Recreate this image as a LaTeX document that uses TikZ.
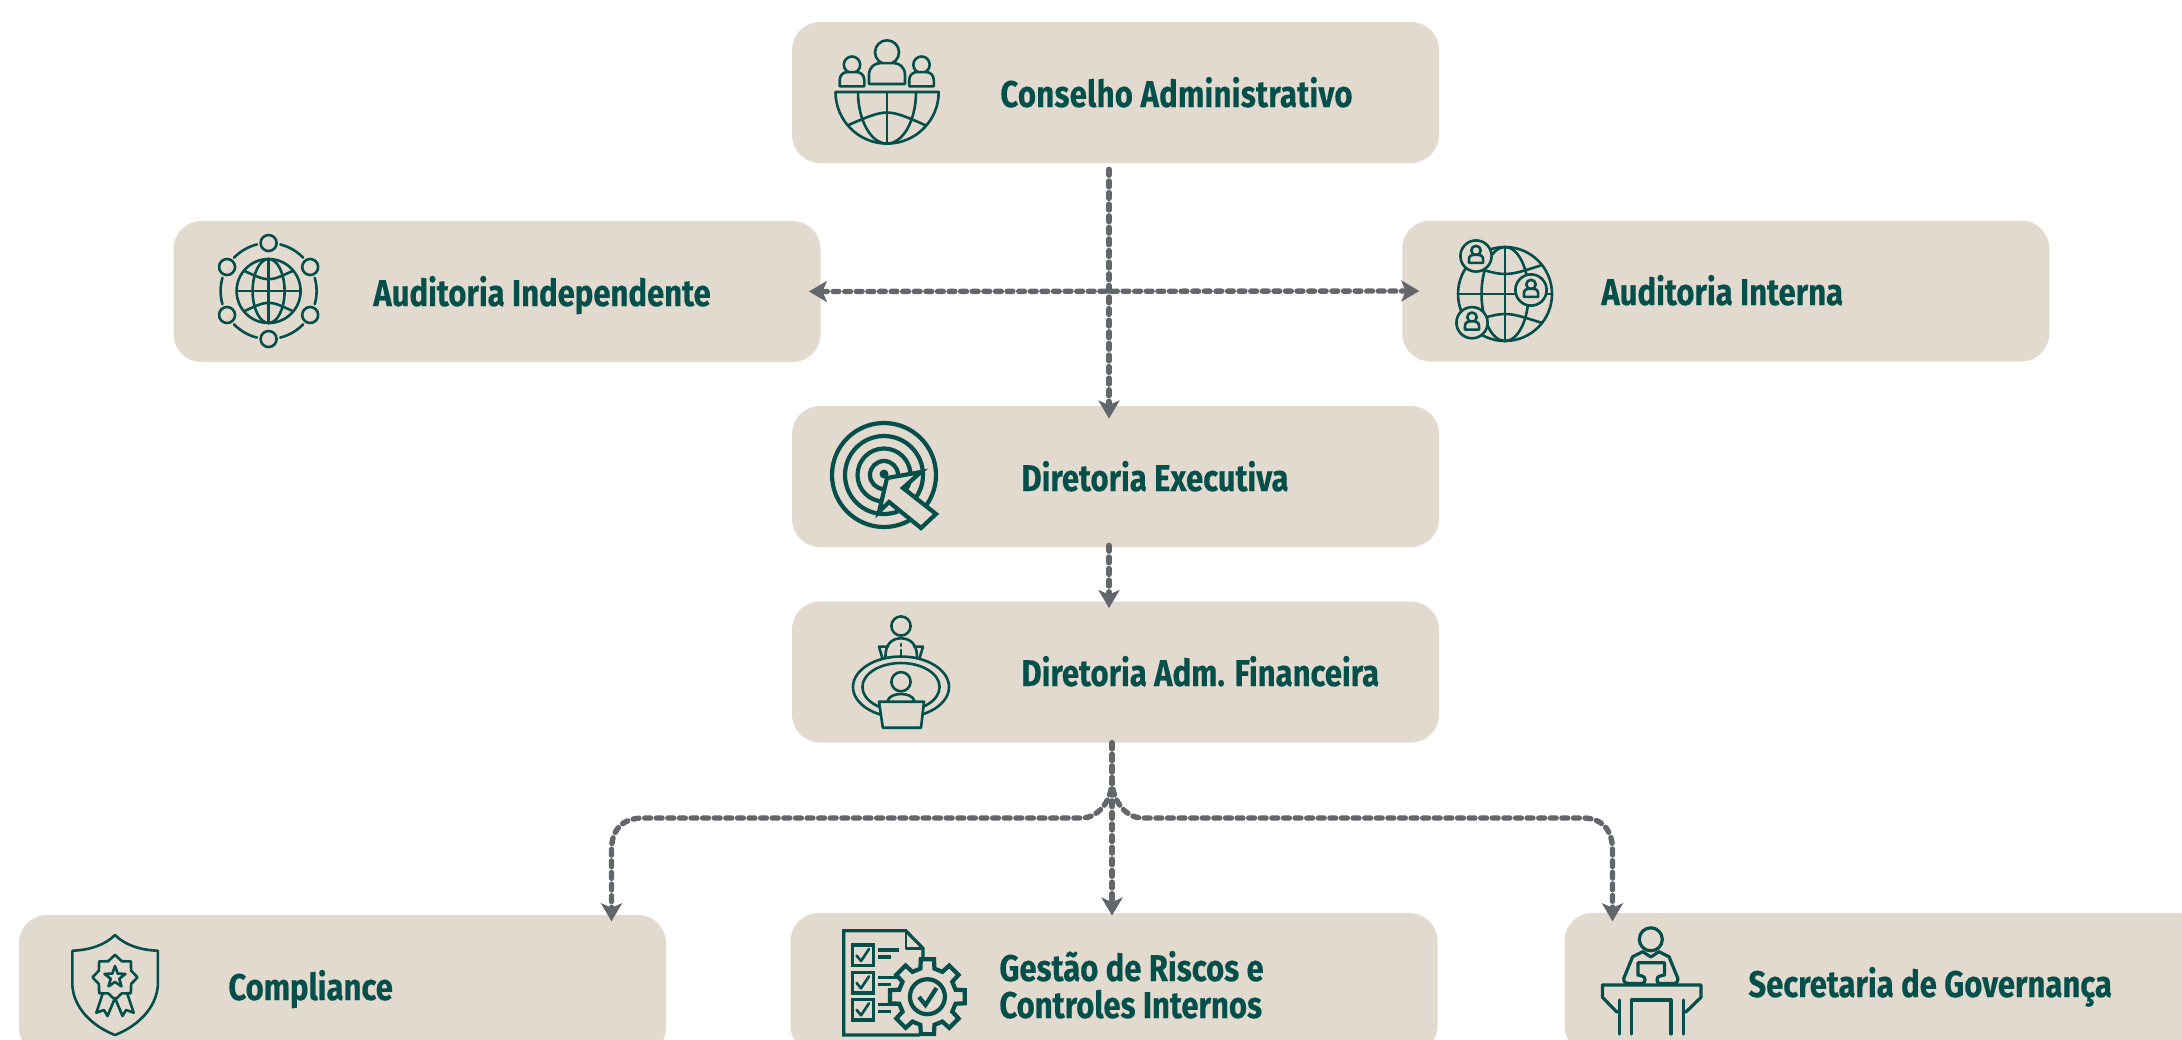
\documentclass[tikz,border=0pt]{standalone}
\usepackage{fontspec}
\setmainfont[FakeStretch=0.835,BoldFeatures={FakeBold=0.35}]{Fira Sans}
\usetikzlibrary{arrows.meta}
\definecolor{boxc}{HTML}{E2DACF}
\definecolor{inkc}{HTML}{054F4B}
\definecolor{linkc}{HTML}{63666A}
\tikzset{
  panel/.style={rectangle,rounded corners=14pt,fill=boxc,draw=none,minimum width=323.5pt,minimum height=70.5pt,inner sep=0pt},
  lab/.style={anchor=base west,inner sep=0pt,text=inkc,font=\fontsize{18.6}{22}\selectfont\bfseries},
  headtip/.tip={Stealth[length=9pt,width=10.5pt,inset=2.2pt]},
  link/.style={draw=linkc,line width=2.7pt,line cap=round,dash pattern=on 2.9pt off 2.9pt,-headtip},
  ic/.style={draw=inkc,line width=1.3pt,line join=round,line cap=round},
  icb/.style={draw=inkc,line width=2.1pt,line join=miter}
}
\newcommand\persona[3]{\begin{scope}[shift={(#1,#2)},scale=#3]
  \draw[ic] (0,0) circle[radius=1];
  \draw[ic,fill=boxc] (-1.5,2.64) -- (-1.5,1.9) .. controls (-1.5,1.2) and (-1,.9) .. (-.55,.9) -- (.55,.9) .. controls (1,.9) and (1.5,1.2) .. (1.5,1.9) -- (1.5,2.64) -- cycle;
\end{scope}}
\begin{document}
\begin{tikzpicture}[x=0.5pt,y=-0.5pt]
\path[use as bounding box] (0,0) rectangle (2182,1039);
\clip (0,0) rectangle (2182,1039);
% panels
\node[panel] (conselho) at (1115.5,92.5) {};
\node[panel] (auditind) at (497,291.5) {};
\node[panel] (auditint) at (1725.75,291) {};
\node[panel] (direx) at (1115.5,476.5) {};
\node[panel] (diradm) at (1115.5,672) {};
\node[panel] (compl) at (342.5,985.5) {};
\node[panel] (gestao) at (1114,983.5) {};
\node[panel] (secret) at (1888,983.5) {};
% labels
\node[lab] (t1) at (1000,107) {\addfontfeature{LetterSpace=0.7}Conselho Administrativo};
\node[lab] (t2) at (373,306) {Auditoria Independente};
\node[lab] (t3) at (1601,305) {Auditoria Interna};
\node[lab] (t4) at (1021,491) {Diretoria Executiva};
\node[lab] (t5) at (1021,686) {Diretoria Adm. Financeira};
\node[lab] (t6) at (228,1000) {Compliance};
\node[lab] (t7) at (999,981) {Gestão de Riscos e};
\node[lab] (t8) at (999,1018) {Controles Internos};
\node[lab] (t9) at (1748,997) {Secretaria de Governança};
% connectors
\draw[link] ([xshift=-3.25pt,yshift=-3pt]conselho.south) -- ([xshift=-3.25pt,yshift=-6.5pt]direx.north);
\draw[link,headtip-headtip] ([xshift=-6pt]auditind.east) -- ([xshift=8.75pt]auditint.west);
\draw[link] ([xshift=-3.25pt,yshift=1pt]direx.south) -- ([xshift=-3.25pt,yshift=-3.5pt]diradm.north);
\draw[link] ([xshift=-1.75pt]diradm.south) -- ([xshift=-1pt,yshift=-1.5pt]gestao.north);
\coordinate (fork) at (1112,780);
\coordinate (hl) at (1082,818);
\coordinate (hl2) at (643,818);
\coordinate (vl) at (611.5,850);
\coordinate (hr) at (1142,818);
\coordinate (hr2) at (1583,818);
\coordinate (vr) at (1612.5,850);
\draw[link] ([xshift=-1.75pt]diradm.south) -- (fork) .. controls (1112,802) and (1097,818) .. (hl) -- (hl2) .. controls (622,818) and (611.5,830) .. (vl) -- ([xshift=134.5pt,yshift=-3.35pt]compl.north);
\draw[link] ([xshift=-1.75pt]diradm.south) -- (fork) .. controls (1112,802) and (1127,818) .. (hr) -- (hr2) .. controls (1602,818) and (1612.5,830) .. (vr) -- ([xshift=-137.75pt,yshift=-4.35pt]secret.north);
% icon: conselho
\draw[ic] (835.5,92) -- (938.7,92) arc[start angle=0,end angle=180,radius=51.6];
\draw[ic] (887,92) -- (887,143.6);
\draw[ic] (858,92) arc[start angle=180,end angle=0,x radius=29,y radius=51.6];
\draw[ic] (848.5,125) .. controls (887,108.4) .. (925,125);
\persona{887}{52.3}{12}
\persona{852}{64.7}{8.2}
\persona{921.5}{64.7}{8.2}
% icon: auditoria independente
\draw[ic] (268.6,291) circle[radius=32];
\draw[ic] (268.6,291) ellipse[x radius=16,y radius=32];
\draw[ic] (268.6,259) -- (268.6,323);
\draw[ic] (236.6,291) -- (300.6,291);
\draw[ic] (244.6,271) .. controls (268.6,282) .. (292.6,271);
\draw[ic] (244.6,311) .. controls (268.6,300) .. (292.6,311);
\foreach \a in {30,90,150,210,270,330}{
  \draw[ic] (268.6,291) ++(\a:48) circle[radius=8];
  \draw[ic] (268.6,291) ++(\a+14:48) arc[start angle=\a+14,end angle=\a+46,radius=48];
}
% icon: auditoria interna
\draw[ic] (1505,294) circle[radius=47];
\draw[ic] (1505,294) ellipse[x radius=23.5,y radius=47];
\draw[ic] (1505,247) -- (1505,341);
\draw[ic] (1458,294) -- (1552,294);
\draw[ic] (1468,265) .. controls (1505,277) .. (1542,265);
\draw[ic] (1468,323) .. controls (1505,311) .. (1542,323);
\foreach \x/\y in {1476/256,1531/290,1472/322.7}{
  \draw[ic,fill=boxc] (\x,\y) circle[radius=15.6];
  \persona{\x}{\y-5.5}{4.7}
}
% icon: diretoria executiva
\foreach \r in {52,39,26.5,14}{\draw[icb] (884,475) circle[radius=\r];}
\fill[inkc] (884,474) circle[radius=4.5];
\draw[icb,fill=boxc] (887,478) -- (921,472) -- (903,488) -- (936,514) -- (921,528) -- (889,502) -- (879,512) -- cycle;
% icon: diretoria adm
\draw[ic] (901,626) circle[radius=9.6];
\draw[ic] (885.4,656.7) .. controls (885.4,644) and (892,638.3) .. (901,638.3) .. controls (910,638.3) and (917,644) .. (917,656.7);
\draw[ic] (901,644) -- (901,646);
\draw[ic] (901,650) -- (901,655);
\draw[ic] (888,646.5) -- (879,646.7) -- (882.3,658);
\draw[ic] (914,646.5) -- (923,646.7) -- (919.6,658);
\draw[ic] (901,687) ellipse[x radius=48,y radius=30.5];
\draw[ic] (901,687) ellipse[x radius=38.6,y radius=24];
\draw[ic] (901,681.7) circle[radius=9.6];
\draw[ic] (887.5,701) .. controls (889,696) and (895,694) .. (901,694) .. controls (907,694) and (913,696) .. (914.5,701);
\draw[ic,fill=boxc] (879,701.7) -- (924,701.7) -- (921,727.7) -- (882.8,727.7) -- cycle;
% icon: compliance
\draw[ic] (115,935) .. controls (105,945) and (90,950) .. (72.4,950.7) -- (72.4,986) .. controls (74,1008) and (92,1026) .. (115,1035) .. controls (138,1026) and (156,1008) .. (157.8,986) -- (157.8,950.7) .. controls (140,950) and (125,945) .. (115,935) -- cycle;
\draw[ic] plot coordinates {(115,954.8) (121.7,961.2) (130.9,961.4) (131.1,970.6) (137.5,977.3) (131.1,984) (130.9,993.2) (121.7,993.4) (115,999.8) (108.3,993.4) (99.1,993.2) (98.9,984) (92.5,977.3) (98.9,970.6) (99.1,961.4) (108.3,961.2) (115,954.8)};
\draw[ic] (115,966) -- (117.7,973.6) -- (125.5,973.9) -- (119.3,978.7) -- (121.5,986.4) -- (115,981.9) -- (108.5,986.4) -- (110.7,978.7) -- (104.5,973.9) -- (112.3,973.6) -- cycle;
\draw[ic] (102.8,993.3) -- (96.3,1012.7) -- (104,1010) -- (107.5,1016) -- (115,998);
\draw[ic] (127.2,993.3) -- (133.7,1012.7) -- (126,1010) -- (122.5,1016) -- (115,998);
% icon: gestao
\draw[icb,line width=1.6pt] (919.6,1035) -- (843.7,1035) -- (843.7,930.7) -- (905.8,930.7) -- (923,948.3) -- (923,965);
\draw[ic] (905.8,930.7) -- (905.8,948.3) -- (923,948.3);
\foreach \y in {945,972.3,999.3}{
  \draw[icb,line width=1.6pt] (852.4,\y) rectangle (873.2,\y+20.7);
  \draw[ic] (856.5,\y+10.5) -- (861,\y+16) -- (869,\y+4);
  \draw[icb,line width=1.6pt] (877.6,\y+5) -- (899.3,\y+5);
  \draw[icb,line width=1.6pt] (877.6,\y+12) -- (890.6,\y+12);
}
\begin{scope}[shift={(927.4,996.7)}]
\draw[icb,fill=boxc] (-14:29)
  \foreach \a in {0,45,...,315}{ -- (\a-14:29) -- (\a-10:38) -- (\a+10:38) -- (\a+14:29) } -- cycle;
\draw[icb] (0,0) circle[radius=17.5];
\draw[icb] (-8.4,0.3) -- (-1.9,8.3) -- (9.1,-8.7);
\end{scope}
% icon: secretaria
\draw[ic,line width=1.6pt] (1650.8,939.3) circle[radius=11.5];
\draw[ic,line width=1.6pt] (1642.7,951.7) -- (1650.8,957) -- (1658.9,951.7);
\draw[ic,line width=1.6pt] (1642.7,951.7) -- (1632.6,956.7) -- (1623.8,978.3) .. controls (1623.5,982) and (1625,983.5) .. (1628,983.5) -- (1642,983.5) .. controls (1646,983.5) and (1646,976) .. (1642,976) -- (1637.9,975) -- (1637.9,962.7) -- (1664.5,962.7) -- (1664.5,975) -- (1660,976) .. controls (1656,976) and (1656,983.5) .. (1660,983.5) -- (1673,983.5) .. controls (1676.5,983.5) and (1678,982) .. (1677.8,978.3) -- (1669,956.7) -- (1658.9,951.7);
\draw[ic,line width=1.6pt] (1602.4,985) -- (1701,985) -- (1701,997.3) -- (1686.2,1011.7) -- (1683.8,1011.7);
\draw[ic,line width=1.6pt] (1602.4,985) -- (1602.4,997.3) -- (1616.5,1011.7) -- (1619.3,1011.7);
\draw[ic,line width=1.6pt] (1619.3,1000) -- (1619.3,1034);
\draw[ic,line width=1.6pt] (1683.8,1000) -- (1683.8,1034);
\draw[ic,line width=1.6pt] (1631.4,1034) -- (1631.4,1000) -- (1670.9,1000) -- (1670.9,1034);
\end{tikzpicture}
\end{document}
